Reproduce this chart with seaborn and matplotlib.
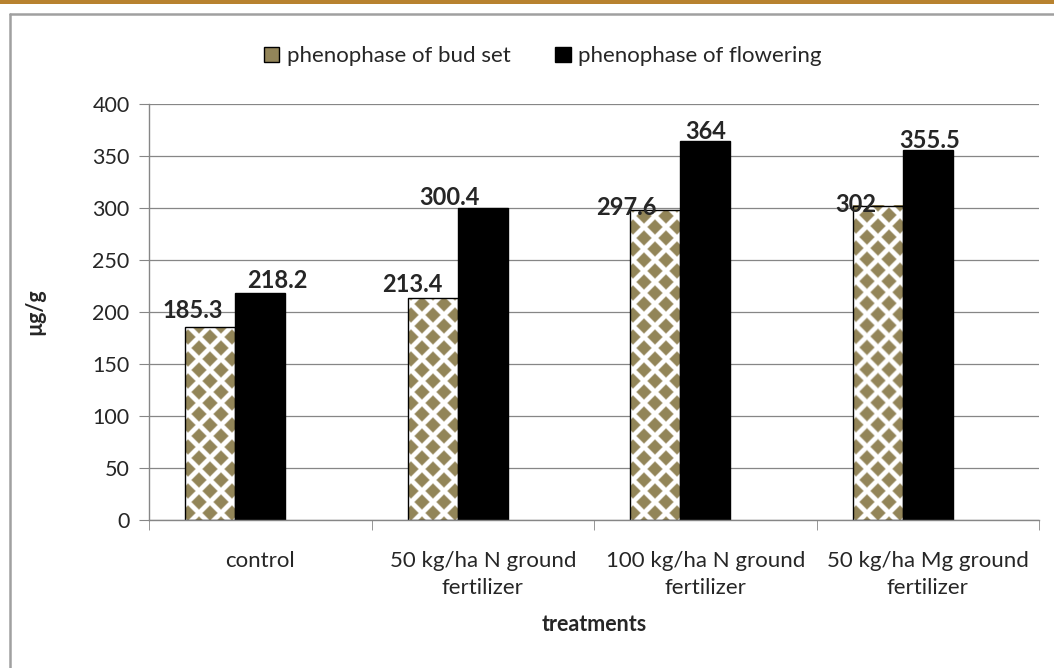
import numpy as np
import pandas as pd
import matplotlib
matplotlib.use("Agg")
import matplotlib.pyplot as plt
from matplotlib.patches import Patch, Rectangle
from matplotlib.lines import Line2D
import seaborn as sns

# data
treatments = ["control", "50 kg/ha N ground\nfertilizer",
              "100 kg/ha N ground\nfertilizer", "50 kg/ha Mg ground\nfertilizer"]
bud_set = [185.3, 213.4, 297.6, 302]
flowering = [218.2, 300.4, 364, 355.5]
series = ["phenophase of bud set", "phenophase of flowering"]
y_ticks = [0, 50, 100, 150, 200, 250, 300, 350, 400]

df = pd.DataFrame({
    "treatment": treatments * 2,
    "phase": [series[0]] * 4 + [series[1]] * 4,
    "value": bud_set + flowering,
})

olive = "#938559"
grey = "#868686"
fs = 16

sns.set_style("white")
plt.rcParams["font.family"] = ["Lato", "DejaVu Sans"]
plt.rcParams["font.size"] = fs

fig = plt.figure(figsize=(10.54, 6.68), dpi=100)
ax = fig.add_axes([149 / 1054, 148 / 668, 890 / 1054, 416 / 668])

# third (empty) slot mimics the spreadsheet layout: bars sit left of centre
sns.barplot(data=df, x="treatment", y="value", hue="phase",
            hue_order=series + ["_empty"], order=treatments,
            palette=["white", "black", "white"], width=0.674,
            saturation=1, legend=False, errorbar=None, ax=ax)

ax.set_xlim(-0.5, 3.5)
ax.set_ylim(0, 400)
ax.set_yticks(y_ticks)
ax.set_axisbelow(True)
ax.yaxis.grid(True, color=grey, lw=0.9)
for s in ["top", "right"]:
    ax.spines[s].set_visible(False)
for s in ["left", "bottom"]:
    ax.spines[s].set_color(grey)
    ax.spines[s].set_linewidth(1)

ax.set_xticks(range(4))
ax.set_xticklabels(treatments, fontsize=fs, linespacing=1.45)
ax.set_xticks([-0.5, 0.5, 1.5, 2.5, 3.5], minor=True)
ax.tick_params(axis="x", which="major", length=0, pad=22)
ax.tick_params(axis="x", which="minor", length=7, color=grey, direction="out")
ax.tick_params(axis="y", length=7, color=grey, direction="out", labelsize=fs - 0.5, pad=7)
ax.yaxis.set_tick_params(left=True)
ax.xaxis.set_tick_params(bottom=True, which="minor")

ax.set_xlabel("treatments", fontweight="bold", fontsize=fs - 0.5, labelpad=12)
ax.set_ylabel("µg/g", fontweight="bold", fontsize=fs - 0.5, labelpad=34)

# diamond pattern fill for the bud set bars
fig.canvas.draw()
P = 22.0
for bar in ax.containers[0]:
    bb = bar.get_window_extent()
    w, h = int(round(bb.width)), int(round(bb.height))
    xx, yy = np.meshgrid(np.arange(w) + 0.5, np.arange(h)[::-1] + 0.5)
    dx1 = np.mod(xx + 8, P) - P / 2
    dy1 = np.mod(yy + 4, P) - P / 2
    dx2 = np.mod(xx + 8 + P / 2, P) - P / 2
    dy2 = np.mod(yy + 4 + P / 2, P) - P / 2
    d = np.minimum(np.abs(dx1) + np.abs(dy1), np.abs(dx2) + np.abs(dy2))
    a = np.clip((7.6 - d) / 1.8 + 0.5, 0, 1)[..., None]
    col = np.array(matplotlib.colors.to_rgb(olive))
    img = (1 - a) * np.ones(3) + a * col
    x0 = bar.get_x()
    ax.imshow(img, extent=(x0, x0 + bar.get_width(), 0, bar.get_height()),
              aspect="auto", interpolation="bilinear", zorder=1.5)
    bar.set_facecolor("none")
    bar.set_edgecolor("black")
    bar.set_linewidth(1)
    bar.set_zorder(2)
for bar in ax.containers[1]:
    bar.set_edgecolor("black")
    bar.set_zorder(2)
ax.set_xlim(-0.5, 3.5)
ax.set_ylim(0, 400)

# value labels (manual offsets as placed in the original)
bud_off = [(-18, 17), (-20, 14), (-29, 3), (-22, 1)]
flow_off = [(17, 13), (-33, 10), (0, 10), (2, 10)]
for cont, vals, offs in [(ax.containers[0], bud_set, bud_off),
                         (ax.containers[1], flowering, flow_off)]:
    for bar, v, (ox, oy) in zip(cont, vals, offs):
        ax.annotate(f"{v:g}", (bar.get_x() + bar.get_width() / 2, bar.get_height()),
                    xytext=(ox, oy), textcoords="offset pixels",
                    ha="center", va="center", fontweight="bold", fontsize=fs + 1,
                    zorder=5)

handles = [Patch(facecolor=olive, edgecolor="black", lw=1),
           Patch(facecolor="black", edgecolor="black")]
fig.legend(handles, series, loc="center", bbox_to_anchor=(0.515, 0.916),
           ncol=2, frameon=False, handlelength=0.7, handleheight=0.7,
           handletextpad=0.35, columnspacing=2.0, fontsize=fs)

# outer decoration: brown band and grey frame
fig.add_artist(Rectangle((0, 1 - 3.5 / 668), 1, 3.5 / 668, transform=fig.transFigure,
                         color="#B8822F", lw=0))
fig.add_artist(Line2D([9.5 / 1054, 9.5 / 1054], [0, 1 - 14 / 668],
                      transform=fig.transFigure, color="#a0a0a0", lw=1.8))
fig.add_artist(Line2D([9.5 / 1054, 1], [1 - 14 / 668, 1 - 14 / 668],
                      transform=fig.transFigure, color="#a0a0a0", lw=1.8))

fig.savefig("out.png", dpi=100)
